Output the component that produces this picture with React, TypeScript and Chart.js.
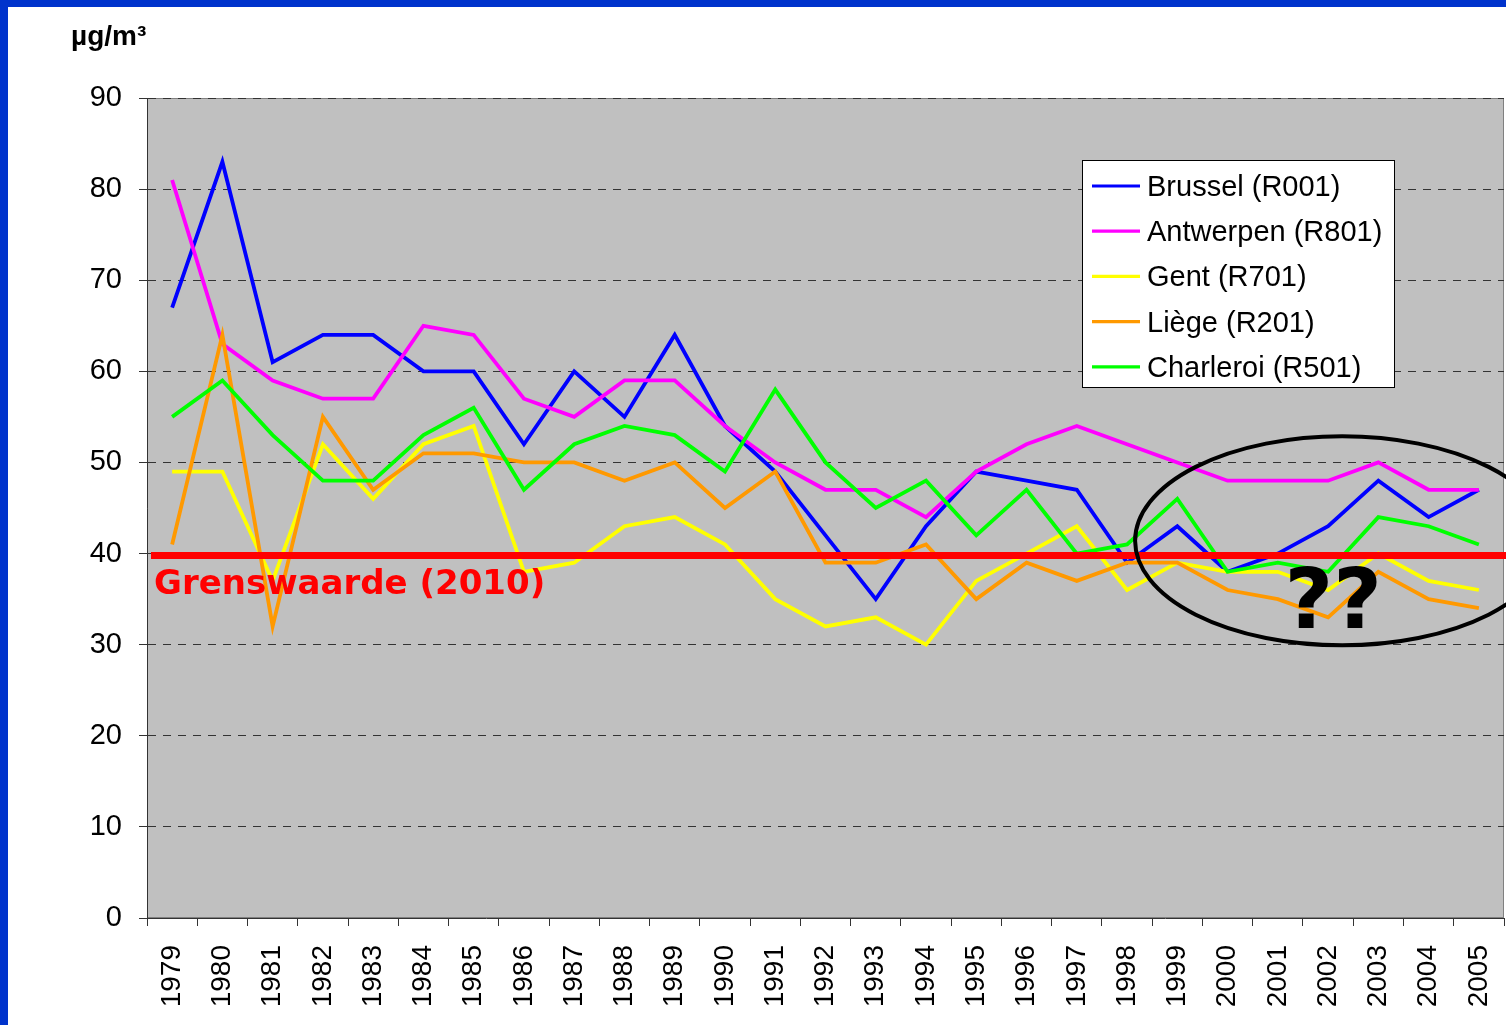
import React, { useEffect, useRef } from "react";
import { Chart, registerables } from "chart.js";

Chart.register(...registerables);

// ---------- data ----------
const years = [
  "1979", "1980", "1981", "1982", "1983", "1984", "1985", "1986", "1987",
  "1988", "1989", "1990", "1991", "1992", "1993", "1994", "1995", "1996",
  "1997", "1998", "1999", "2000", "2001", "2002", "2003", "2004", "2005",
];
const brussel = [67, 83, 61, 64, 64, 60, 60, 52, 60, 55, 64, 54, 49, 42, 35, 43, 49, 48, 47, 39, 43, 38, 40, 43, 48, 44, 47];
const antwerpen = [81, 63, 59, 57, 57, 65, 64, 57, 55, 59, 59, 54, 50, 47, 47, 44, 49, 52, 54, 52, 50, 48, 48, 48, 50, 47, 47];
const gent = [49, 49, 37, 52, 46, 52, 54, 38, 39, 43, 44, 41, 35, 32, 33, 30, 37, 40, 43, 36, 39, 38, 38, 36, 40, 37, 36];
const liege = [41, 64, 32, 55, 47, 51, 51, 50, 50, 48, 50, 45, 49, 39, 39, 41, 35, 39, 37, 39, 39, 36, 35, 33, 38, 35, 34];
const charleroi = [55, 59, 53, 48, 48, 53, 56, 47, 52, 54, 53, 49, 58, 50, 45, 48, 42, 47, 40, 41, 46, 38, 39, 38, 44, 43, 41];

const seriesNames = ["Brussel (R001)", "Antwerpen (R801)", "Gent (R701)", "Liège (R201)", "Charleroi (R501)"];
const seriesValues = [brussel, antwerpen, gent, liege, charleroi];
const seriesColors = ["#0000FF", "#FF00FF", "#FFFF00", "#FF9900", "#00FF00"];

const yMin = 0;
const yMax = 90;
const yStep = 10;
const unitLabel = "µg/m³";
const limitValue = 40;
const limitLabel = "Grenswaarde (2010)";
const questionLabel = "??";
// ellipse annotation in data units (category index, value)
const ellipseCenterIndex = 23.28;
const ellipseCenterValue = 41.4;
const ellipseRadiusIndex = 4.12;
const ellipseRadiusValue = 11.47;

const SANS = "'Liberation Sans', Arial, sans-serif";
const BOLD = "'DejaVu Sans', Verdana, sans-serif";

const W = 1506;
const H = 1025;

const plotBgPlugin = {
  id: "plotBg",
  beforeDraw(chart: any) {
    const { ctx, chartArea: a } = chart;
    ctx.save();
    ctx.fillStyle = "#C0C0C0";
    ctx.fillRect(a.left, a.top, a.right - a.left, a.bottom - a.top);
    ctx.strokeStyle = "#808080";
    ctx.lineWidth = 1;
    ctx.strokeRect(a.left + 0.5, a.top + 0.5, a.right - a.left - 1, a.bottom - a.top - 1);
    ctx.restore();
  },
};

const overlayPlugin = {
  id: "overlay",
  afterDraw(chart: any) {
    const { ctx, chartArea: a } = chart;
    const xs = chart.scales.x;
    const ys = chart.scales.y;
    ctx.save();

    // unit title
    ctx.fillStyle = "#000";
    ctx.font = `bold 28px ${SANS}`;
    ctx.textAlign = "left";
    ctx.textBaseline = "alphabetic";
    ctx.fillText(unitLabel, 71, 45);

    // limit line
    const ly = ys.getPixelForValue(limitValue) + 2;
    ctx.strokeStyle = "#FF0000";
    ctx.lineWidth = 7;
    ctx.beginPath();
    ctx.moveTo(a.left + 4, ly);
    ctx.lineTo(W, ly);
    ctx.stroke();

    ctx.fillStyle = "#FF0000";
    ctx.font = `bold 34px ${BOLD}`;
    ctx.textAlign = "left";
    ctx.fillText(limitLabel, a.left + 7, ly + 38);

    // ellipse
    const cx = xs.getPixelForValue(ellipseCenterIndex);
    const cy = ys.getPixelForValue(ellipseCenterValue);
    const rx = xs.getPixelForValue(ellipseCenterIndex + ellipseRadiusIndex) - cx;
    const ry = cy - ys.getPixelForValue(ellipseCenterValue + ellipseRadiusValue);
    ctx.strokeStyle = "#000";
    ctx.lineWidth = 4;
    ctx.beginPath();
    ctx.ellipse(cx, cy, rx, ry, 0, 0, Math.PI * 2);
    ctx.stroke();

    ctx.fillStyle = "#000";
    ctx.font = `bold 84px ${BOLD}`;
    ctx.textAlign = "center";
    ctx.fillText(questionLabel, cx - 9, cy + 87);

    // legend
    const lx = 1082;
    const ltop = 160;
    const lw = 312;
    const lh = 227;
    ctx.fillStyle = "#FFFFFF";
    ctx.fillRect(lx, ltop, lw, lh);
    ctx.strokeStyle = "#000";
    ctx.lineWidth = 1;
    ctx.strokeRect(lx + 0.5, ltop + 0.5, lw, lh);
    ctx.font = `29px ${SANS}`;
    ctx.textAlign = "left";
    seriesNames.forEach((name, i) => {
      const ry2 = ltop + 26 + i * 45.2;
      ctx.strokeStyle = seriesColors[i];
      ctx.lineWidth = 3.2;
      ctx.beginPath();
      ctx.moveTo(lx + 10, ry2);
      ctx.lineTo(lx + 58, ry2);
      ctx.stroke();
      ctx.fillStyle = "#000";
      ctx.fillText(name, lx + 65, ry2 + 10);
    });

    ctx.restore();
  },
};

export default function App() {
  const ref = useRef<HTMLCanvasElement>(null);

  useEffect(() => {
    document.body.style.overflow = "hidden";
    const canvas = ref.current!;
    const chart = new Chart(canvas, {
      type: "line",
      data: {
        labels: years,
        datasets: seriesNames.map((name, i) => ({
          label: name,
          data: seriesValues[i],
          borderColor: seriesColors[i],
          backgroundColor: seriesColors[i],
          borderWidth: 3.8,
          pointRadius: 0,
          pointHoverRadius: 0,
          tension: 0,
          fill: false,
          order: seriesNames.length - i,
        })),
      },
      options: {
        animation: false,
        responsive: false,
        maintainAspectRatio: false,
        devicePixelRatio: 1,
        layout: { padding: { left: 0, top: 98, right: 2, bottom: 0 } },
        plugins: {
          legend: { display: false },
          tooltip: { enabled: false },
          title: { display: false },
        },
        scales: {
          x: {
            type: "category",
            offset: true,
            grid: {
              display: true,
              drawOnChartArea: false,
              drawTicks: true,
              tickLength: 8,
              offset: true,
              color: "#333",
            },
            border: { display: true, color: "#333", width: 1 },
            ticks: {
              autoSkip: false,
              minRotation: 90,
              maxRotation: 90,
              padding: 19,
              color: "#000",
              font: { family: SANS, size: 28 },
            },
            afterFit: (s: any) => {
              s.height = 107;
              s.paddingLeft = 0;
              s.paddingRight = 0;
            },
          } as any,
          y: {
            min: yMin,
            max: yMax,
            ticks: {
              stepSize: yStep,
              padding: 17,
              color: "#000",
              font: { family: SANS, size: 29 },
            },
            grid: {
              color: "#333",
              tickLength: 8,
              tickColor: "#333",
              tickBorderDash: [],
            },
            border: { display: true, color: "#333", width: 1, dash: [8, 7] },
            afterFit: (s: any) => {
              s.width = 147;
              s.paddingTop = 0;
              s.paddingBottom = 0;
            },
          } as any,
        },
      },
      plugins: [plotBgPlugin, overlayPlugin],
    });
    return () => chart.destroy();
  }, []);

  return (
    <div
      style={{
        position: "absolute",
        left: 0,
        top: 0,
        width: W,
        height: H,
        background: "#0033CC",
        overflow: "hidden",
      }}
    >
      <div
        style={{
          position: "absolute",
          left: 8,
          top: 7,
          width: W - 8,
          height: H - 7,
          background: "#FFFFFF",
        }}
      />
      <canvas
        ref={ref}
        width={W}
        height={H}
        style={{ position: "absolute", left: 0, top: 0, width: W, height: H }}
      />
    </div>
  );
}
